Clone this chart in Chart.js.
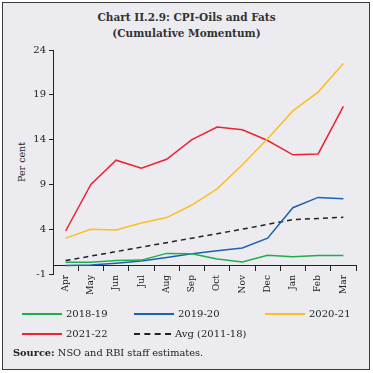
<!DOCTYPE html>
<html lang="en">
<head>
<meta charset="UTF-8">
<title>Chart II.2.9: CPI-Oils and Fats</title>
<script src="https://cdn.jsdelivr.net/npm/chart.js"></script>
<style>
  * { box-sizing: border-box; }
  body { margin: 0; background: #fff; }
  .frame { position: relative; width: 373px; height: 373px; }
  .panel { position: absolute; left: 2px; top: 2px; width: 368px; height: 368px; background: #ebebf0; border: 1.5px solid #3a3a3a; }
  canvas { position: absolute; left: 0; top: 0; }
  .title { position: absolute; left: 0; width: 373px; top: 9px; text-align: center; font: bold 10.5px/16px 'DejaVu Serif', serif; color: #333; }
  .ylabel { position: absolute; left: 21px; top: 162px; transform: translate(-50%, -50%) rotate(-90deg); font: 9.5px 'DejaVu Serif', serif; color: #222; white-space: nowrap; }
  .legend-item { position: absolute; font: 10px 'DejaVu Serif', serif; color: #222; white-space: nowrap; line-height: 12px; }
  .legend-item i { display: inline-block; width: 40px; height: 0; border-top: 2px solid; vertical-align: middle; margin-right: 4px; position: relative; top: -1px; }
  .legend-item i.dash { border-top: 2px dashed #222; width: 37px; }
  .source { position: absolute; left: 13px; top: 347px; font: 9.8px 'DejaVu Serif', serif; color: #222; white-space: nowrap; }
</style>
</head>
<body>
<div class="frame">
  <div class="panel"></div>
  <div class="title">Chart II.2.9: CPI-Oils and Fats<br>(Cumulative Momentum)</div>
  <div class="ylabel">Per cent</div>
  <canvas id="chart" width="373" height="373"></canvas>
  <div id="legend"></div>
  <div class="source"><b>Source:</b> NSO and RBI staff estimates.</div>
</div>

<script>
  const months = ['Apr', 'May', 'Jun', 'Jul', 'Aug', 'Sep', 'Oct', 'Nov', 'Dec', 'Jan', 'Feb', 'Mar'];
  const yTicks = [-1, 4, 9, 14, 19, 24];

  const s2018 = [0.3, 0.3, 0.5, 0.55, 1.3, 1.25, 0.67, 0.35, 1.1, 0.93, 1.07, 1.07];
  const s2019 = [-0.05, 0.0, 0.2, 0.45, 0.85, 1.25, 1.6, 1.9, 3.0, 6.4, 7.55, 7.4];
  const s2020 = [3.0, 4.0, 3.9, 4.7, 5.3, 6.7, 8.5, 11.2, 14.1, 17.2, 19.3, 22.5];
  const s2021 = [3.8, 9.0, 11.7, 10.8, 11.8, 14.0, 15.4, 15.1, 13.9, 12.3, 12.4, 17.7];
  const sAvg = [0.5, 1.0, 1.5, 2.0, 2.5, 3.0, 3.5, 4.0, 4.55, 5.07, 5.2, 5.33];

  const series = [
    { label: '2018-19', data: s2018, color: '#1fae4b' },
    { label: '2019-20', data: s2019, color: '#1c62b0' },
    { label: '2020-21', data: s2020, color: '#fbbf24' },
    { label: '2021-22', data: s2021, color: '#ee2231' },
    { label: 'Avg (2011-18)', data: sAvg, color: '#222222', dash: [5, 4] },
  ];

  // legend slots: [left, top] of each entry
  const legendPos = [[22, 308], [134, 308], [265, 308], [22, 328], [134, 328]];
  const legend = document.getElementById('legend');
  series.forEach((s, i) => {
    const el = document.createElement('div');
    el.className = 'legend-item';
    el.style.left = legendPos[i][0] + 'px';
    el.style.top = legendPos[i][1] + 'px';
    el.innerHTML = (s.dash ? '<i class="dash"></i>' : `<i style="border-color:${s.color}"></i>`) + s.label;
    legend.appendChild(el);
  });

  const axisColor = '#222';
  const tickFont = { family: "'DejaVu Serif', serif", size: 9 };

  new Chart(document.getElementById('chart'), {
    type: 'line',
    data: {
      labels: months,
      datasets: series.map(s => ({
        label: s.label,
        data: s.data,
        borderColor: s.color,
        backgroundColor: s.color,
        borderWidth: 1.5,
        borderDash: s.dash || [],
        pointRadius: 0,
        tension: 0,
        fill: false,
      })),
    },
    options: {
      responsive: false,
      animation: false,
      layout: { padding: { top: 50, right: 17, bottom: 99, left: 0 } },
      plugins: { legend: { display: false }, tooltip: { enabled: false } },
      scales: {
        x: {
          type: 'category',
          offset: true,
          position: { y: 0 },
          grid: { drawOnChartArea: false, drawTicks: true, tickLength: 5, color: axisColor, offset: true },
          border: { display: true, color: axisColor, width: 1 },
          ticks: { minRotation: 90, maxRotation: 90, autoSkip: false, font: tickFont, color: axisColor, padding: 5 },
        },
        y: {
          min: -1,
          max: 24,
          afterBuildTicks: scale => { scale.ticks = yTicks.map(v => ({ value: v })); },
          afterFit: scale => { scale.width = 53; },
          grid: { drawOnChartArea: false, drawTicks: true, tickLength: 4, color: axisColor },
          border: { display: true, color: axisColor, width: 1 },
          ticks: { font: { family: "'DejaVu Serif', serif", size: 10 }, color: axisColor, padding: 3 },
        },
      },
    },
  });
</script>
</body>
</html>
